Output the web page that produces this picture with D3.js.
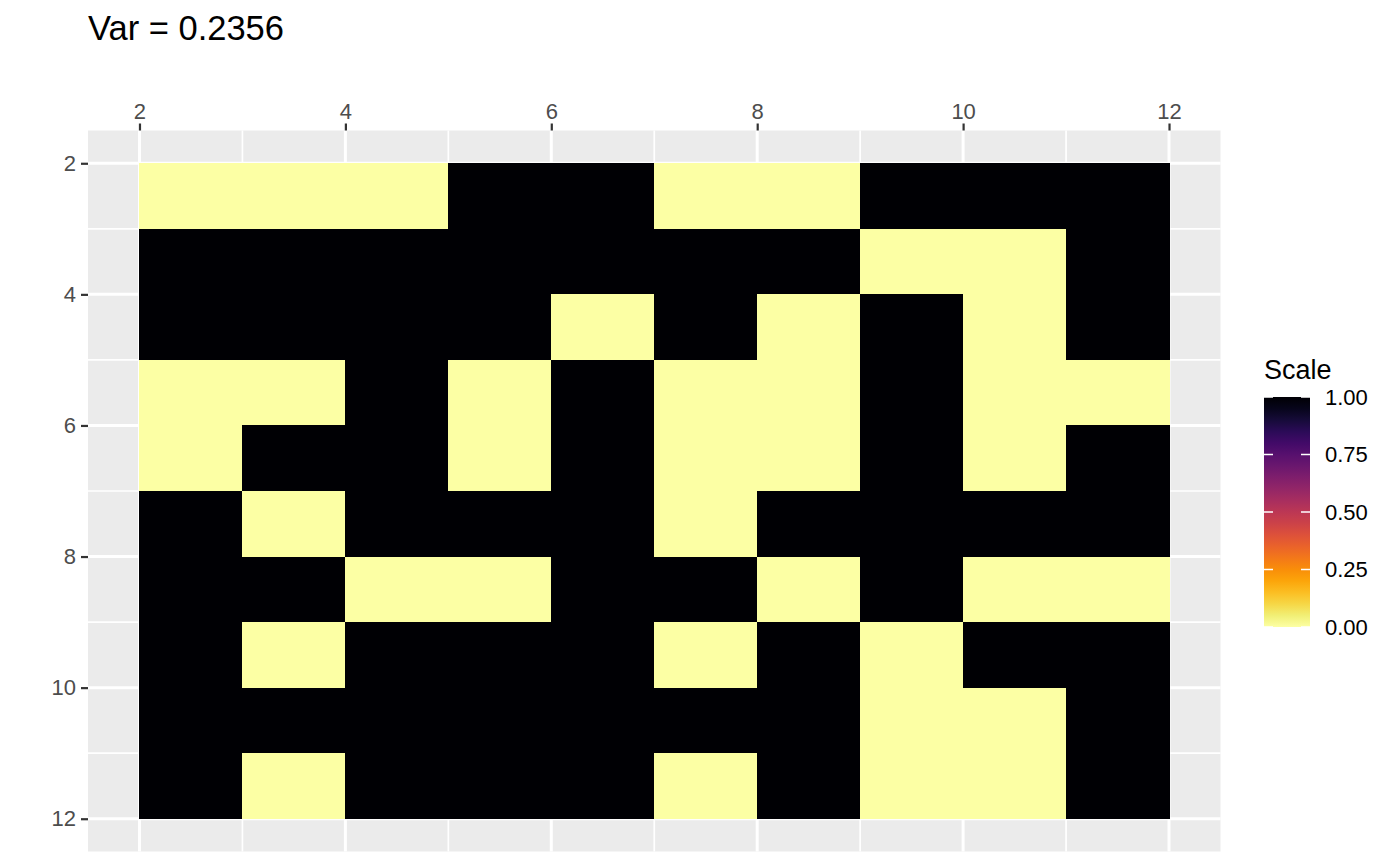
<!DOCTYPE html>
<html>
<head>
<meta charset="utf-8">
<script src="https://cdn.jsdelivr.net/npm/d3@7"></script>
<style>
  body { margin: 0; background: #fff; }
  svg { font-family: "Liberation Sans", Arial, Helvetica, sans-serif; }
</style>
</head>
<body>
<svg id="chart" width="1400" height="866"></svg>
<script>
// values (1 = dark, 0 = light), rows top to bottom
const rowValues = [
    [0, 0, 0, 1, 1, 0, 0, 1, 1, 1],
    [1, 1, 1, 1, 1, 1, 1, 0, 0, 1],
    [1, 1, 1, 1, 0, 1, 0, 1, 0, 1],
    [0, 0, 1, 0, 1, 0, 0, 1, 0, 0],
    [0, 1, 1, 0, 1, 0, 0, 1, 0, 1],
    [1, 0, 1, 1, 1, 0, 1, 1, 1, 1],
    [1, 1, 0, 0, 1, 1, 0, 1, 0, 0],
    [1, 0, 1, 1, 1, 0, 1, 0, 1, 1],
    [1, 1, 1, 1, 1, 1, 1, 0, 0, 1],
    [1, 0, 1, 1, 1, 0, 1, 0, 0, 1]
];
const xTicks = [2, 4, 6, 8, 10, 12];
const yTicks = [2, 4, 6, 8, 10, 12];
const minorTicks = [3, 5, 7, 9, 11];
const legendBreaks = [0, 0.25, 0.5, 0.75, 1];
const titleText = 'Var = 0.2356';
const legendTitle = 'Scale';

let svg = d3.select('#chart');
let panel = {left: 88, right: 1220.5, top: 130.5, bottom: 851.5};

let xScale = d3.scaleLinear().domain([1.5, 12.5]).range([panel.left, panel.right]);
let yScale = d3.scaleLinear().domain([1.5, 12.5]).range([panel.top, panel.bottom]);
let colour = v => d3.interpolateInferno(1 - v);

// panel background + grid
svg.append('rect')
    .attr('x', panel.left).attr('y', panel.top)
    .attr('width', panel.right - panel.left).attr('height', panel.bottom - panel.top)
    .attr('fill', '#EBEBEB');

minorTicks.forEach(t => {
    svg.append('line').attr('x1', xScale(t)).attr('x2', xScale(t))
        .attr('y1', panel.top).attr('y2', panel.bottom)
        .attr('stroke', '#fff').attr('stroke-width', 1.7);
    svg.append('line').attr('y1', yScale(t)).attr('y2', yScale(t))
        .attr('x1', panel.left).attr('x2', panel.right)
        .attr('stroke', '#fff').attr('stroke-width', 1.7);
});
xTicks.forEach(t => {
    svg.append('line').attr('x1', xScale(t)).attr('x2', xScale(t))
        .attr('y1', panel.top).attr('y2', panel.bottom)
        .attr('stroke', '#fff').attr('stroke-width', 3);
});
yTicks.forEach(t => {
    svg.append('line').attr('y1', yScale(t)).attr('y2', yScale(t))
        .attr('x1', panel.left).attr('x2', panel.right)
        .attr('stroke', '#fff').attr('stroke-width', 3);
});

// tiles
let cells = [];
rowValues.forEach((row, i) => row.forEach((v, j) => cells.push({x: 2 + j, y: 2 + i, v: v})));
svg.append('g').attr('shape-rendering', 'crispEdges')
    .selectAll('rect').data(cells).join('rect')
    .attr('x', d => xScale(d.x))
    .attr('y', d => yScale(d.y))
    .attr('width', d => xScale(d.x + 1) - xScale(d.x) + 0.6)
    .attr('height', d => yScale(d.y + 1) - yScale(d.y) + 0.6)
    .attr('fill', d => colour(d.v));

// axes
let xAxis = d3.axisTop(xScale).tickValues(xTicks).tickSize(7).tickPadding(5).tickFormat(d3.format('d'));
let yAxis = d3.axisLeft(yScale).tickValues(yTicks).tickSize(7).tickPadding(5).tickFormat(d3.format('d'));
let gx = svg.append('g').attr('transform', `translate(0, ${panel.top})`).call(xAxis);
let gy = svg.append('g').attr('transform', `translate(${panel.left}, 0)`).call(yAxis);
[gx, gy].forEach(g => {
    g.select('.domain').remove();
    g.selectAll('.tick line').attr('stroke', '#333333').attr('stroke-width', 2.2);
    g.selectAll('.tick text').attr('fill', '#4D4D4D').style('font-size', '22px')
        .style('font-family', '"Liberation Sans", Arial, sans-serif');
});

// title
svg.append('text')
    .attr('x', 88).attr('y', 40)
    .style('font-size', '34.5px')
    .attr('fill', '#000')
    .text(titleText);

// legend colourbar
let barX = 1264, barW = 46;
let legendScale = d3.scaleLinear().domain([0, 1]).range([627, 397]);
let defs = svg.append('defs');
let grad = defs.append('linearGradient').attr('id', 'bar')
    .attr('x1', 0).attr('y1', 1).attr('x2', 0).attr('y2', 0);
d3.range(0, 1.0001, 0.05).forEach(s => {
    grad.append('stop').attr('offset', s).attr('stop-color', colour(s));
});
svg.append('rect')
    .attr('x', barX).attr('y', legendScale(1))
    .attr('width', barW).attr('height', legendScale(0) - legendScale(1))
    .attr('fill', 'url(#bar)');

svg.append('g').selectAll('line.l').data(legendBreaks).join('line')
    .attr('x1', barX).attr('x2', barX + 9)
    .attr('y1', d => legendScale(d)).attr('y2', d => legendScale(d))
    .attr('stroke', '#fff').attr('stroke-width', 1.5);
svg.append('g').selectAll('line.r').data(legendBreaks).join('line')
    .attr('x1', barX + barW - 9).attr('x2', barX + barW)
    .attr('y1', d => legendScale(d)).attr('y2', d => legendScale(d))
    .attr('stroke', '#fff').attr('stroke-width', 1.5);

svg.append('g').selectAll('text').data(legendBreaks).join('text')
    .attr('x', 1325)
    .attr('y', d => legendScale(d))
    .attr('dy', '0.35em')
    .style('font-size', '22px')
    .attr('fill', '#000')
    .text(d => d3.format('.2f')(d));

svg.append('text')
    .attr('x', 1264).attr('y', 379)
    .style('font-size', '27px')
    .attr('fill', '#000')
    .text(legendTitle);
</script>
</body>
</html>
